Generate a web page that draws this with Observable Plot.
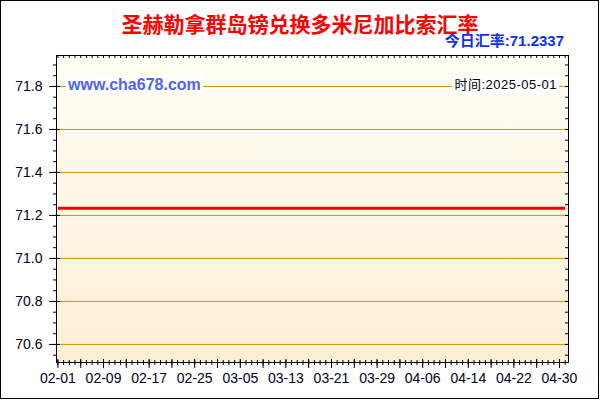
<!DOCTYPE html>
<html><head><meta charset="utf-8">
<script src="https://cdn.jsdelivr.net/npm/d3@7"></script>
<script src="https://cdn.jsdelivr.net/npm/@observablehq/plot@0.6"></script>
<style>
body{margin:0;background:#fff;}
#wrap{position:relative;width:600px;height:400px;overflow:hidden;background:#fff;}
#wrap svg{position:absolute;left:0;top:0;}
.ov{position:absolute;white-space:nowrap;}
#title{left:0;width:600px;top:13px;text-align:center;font:bold 21px/21px "Noto Sans CJK SC",sans-serif;color:#FF0000;}
#sub{right:36px;top:33px;font:bold 15px/15px "Liberation Sans","Noto Sans CJK SC",sans-serif;color:#1030F0;}
#site{left:66px;top:75px;padding:1px 2px;background:#fff;font:bold 16px/17px "Liberation Sans",Arial,sans-serif;color:#5064EE;}
#time{right:41px;top:75px;padding:1px 2px;background:#fff;font:13px/17px "Liberation Sans","Noto Sans CJK SC",sans-serif;letter-spacing:0.5px;color:#000;}
#border{left:0;top:0;width:599px;height:399px;box-sizing:border-box;border:1px solid #000;}
</style></head><body>
<div id="wrap"></div>
<script>
const title = "圣赫勒拿群岛镑兑换多米尼加比索汇率";
const todayLabel = "今日汇率:";
const todayRate = "71.2337";
const siteLabel = "www.cha678.com";
const timeLabel = "时间:2025-05-01";

const dates = ["2025-02-01","2025-02-09","2025-02-17","2025-02-25","2025-03-05","2025-03-13","2025-03-21","2025-03-29","2025-04-06","2025-04-14","2025-04-22","2025-04-30","2025-05-01"];
const rates = [71.2337,71.2337,71.2337,71.2337,71.2337,71.2337,71.2337,71.2337,71.2337,71.2337,71.2337,71.2337,71.2337];
const xTickLabels = ["02-01","02-09","02-17","02-25","03-05","03-13","03-21","03-29","04-06","04-14","04-22","04-30"];
const yTicks = [70.6,70.8,71.0,71.2,71.4,71.6,71.8];

const parse = d3.utcParse("%Y-%m-%d");
const data = dates.map((d,i)=>({date: parse(d), rate: rates[i]}));
const xTicks = xTickLabels.map(s => parse("2025-" + s));
const x0 = new Date(Date.UTC(2025,0,31,18)), x1 = new Date(Date.UTC(2025,4,1,14));
const dayTicks = d3.utcDay.range(parse("2025-02-01"), parse("2025-05-02"));
const fourTicks = dayTicks.filter((d,i)=> i%4===0);
const yMinor = d3.range(1411,1439).map(k=>k/20);

const W=600,H=400,mL=56,mR=32,mT=55,mB=38;
const pw=W-mL-mR, ph=H-mT-mB;
const black="#000";

const chart = Plot.plot({
  width:W, height:H, marginLeft:mL, marginRight:mR, marginTop:mT, marginBottom:mB,
  x:{type:"utc", domain:[x0,x1], label:null},
  y:{domain:[70.516,71.944], label:null},
  style:{fontFamily:"'Liberation Sans', Arial, sans-serif", fontSize:"14px", color:"#000022", background:"transparent", overflow:"visible"},
  marks:[
    Plot.frame({fill:"url(#bgGrad)", stroke:"none"}),
    Plot.ruleY(yTicks,{stroke:"#C89400", strokeWidth:1}),
    Plot.lineY(data,{x:"date", y:"rate", stroke:"#FF0000", strokeWidth:3, strokeLinecap:"butt"}),
    Plot.tickX(dayTicks,{x:d=>d, insetTop:ph-2, insetBottom:-3, stroke:black}),
    Plot.tickX(fourTicks,{x:d=>d, insetTop:ph-3, insetBottom:-6, stroke:black}),
    Plot.tickX(dayTicks,{x:d=>d, insetBottom:ph-3, stroke:black}),
    Plot.tickY(yTicks,{y:d=>d, insetLeft:-7, insetRight:pw-4, stroke:black}),
    Plot.tickY(yMinor,{y:d=>d, insetLeft:-3, insetRight:pw, stroke:black}),
    Plot.tickY(yMinor,{y:d=>d, insetLeft:pw-3, stroke:black}),
    Plot.axisX(xTicks,{tickSize:0, tickPadding:11, tickFormat:d3.utcFormat("%m-%d"), label:null}),
    Plot.axisY(yTicks,{tickSize:0, tickPadding:14, tickFormat:d=>d.toFixed(1), label:null}),
    Plot.frame({stroke:black})
  ]
});
const defs = document.createElementNS("http://www.w3.org/2000/svg","defs");
defs.innerHTML = '<linearGradient id="bgGrad" x1="0" y1="0" x2="0" y2="1"><stop offset="0" stop-color="#FFFEF4"/><stop offset="1" stop-color="#FCEFD5"/></linearGradient>';
chart.insertBefore(defs, chart.firstChild);

const wrap = document.getElementById("wrap");
wrap.appendChild(chart);
function ov(id, text){ const d=document.createElement("div"); d.className="ov"; d.id=id; d.textContent=text; wrap.appendChild(d); }
ov("title", title);
ov("sub", todayLabel + todayRate);
ov("site", siteLabel);
ov("time", timeLabel);
ov("border", "");
</script>
</body></html>
